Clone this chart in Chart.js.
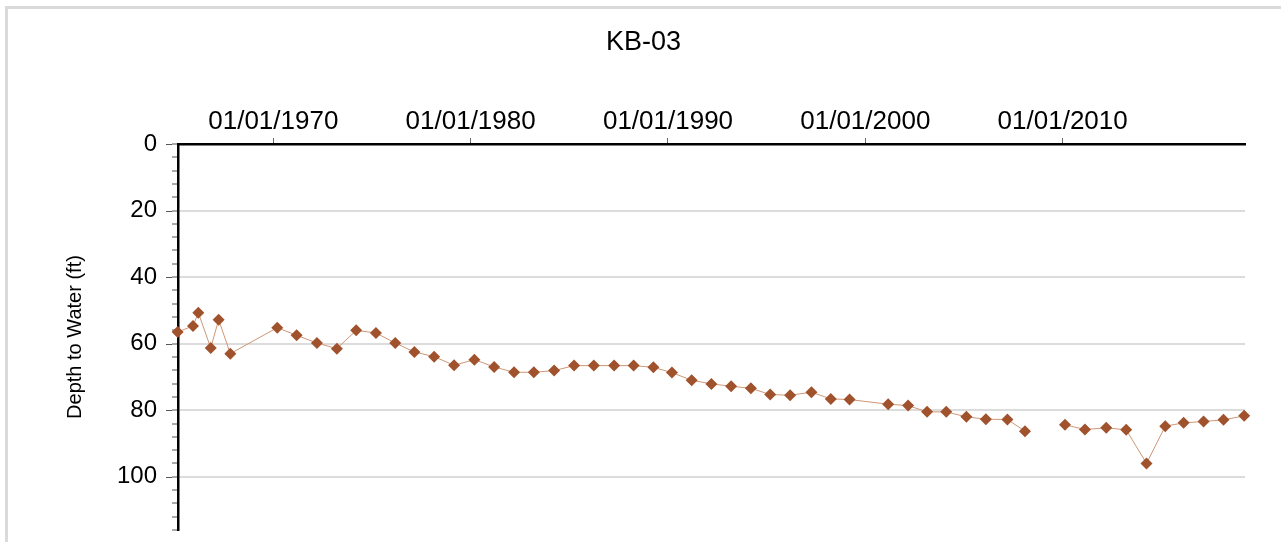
<!DOCTYPE html>
<html>
<head>
<meta charset="utf-8">
<title>KB-03</title>
<script src="https://cdn.jsdelivr.net/npm/chart.js@4/dist/chart.umd.min.js"></script>
<style>
    body { margin: 0; background: #fff; }
    #wrap { position: relative; width: 1281px; height: 542px; }
</style>
</head>
<body>
<div id="wrap"><canvas id="depthChart"></canvas></div>
<script>
// measurement dates as decimal years, depth to water in feet (null = break in the line)
const years = [
    1965.15, 1965.93, 1966.2, 1966.83, 1967.23, 1967.82,
    1970.2, 1971.18, 1972.21, 1973.22, 1974.2, 1975.2, 1976.18, 1977.15, 1978.15, 1979.16,
    1980.19, 1981.19, 1982.2, 1983.2, 1984.23, 1985.24, 1986.24, 1987.27, 1988.26, 1989.26,
    1990.2, 1991.2, 1992.2, 1993.2, 1994.2, 1995.18, 1996.19, 1997.27, 1998.25, 1999.2,
    2001.16, 2002.17, 2003.13, 2004.1, 2005.12, 2006.11, 2007.2, 2008.09,
    2009.1,
    2010.12, 2011.13, 2012.21, 2013.22, 2014.25, 2015.2, 2016.13, 2017.14, 2018.15, 2019.2
];
const depths = [
    56.5, 54.7, 50.7, 61.3, 52.8, 63.0,
    55.2, 57.5, 59.8, 61.5, 56.0, 56.8, 59.8, 62.5, 63.9, 66.5,
    64.8, 67.0, 68.6, 68.6, 68.1, 66.6, 66.6, 66.6, 66.6, 67.1,
    68.7, 71.0, 72.1, 72.8, 73.4, 75.3, 75.5, 74.6, 76.6, 76.8,
    78.2, 78.6, 80.5, 80.5, 82.0, 82.7, 82.8, 86.3,
    null,
    84.4, 85.8, 85.3, 85.9, 96.0, 84.8, 83.8, 83.4, 82.9, 81.7
];
const xTicks = [1970, 1980, 1990, 2000, 2010];
const yMajorStep = 20;

const points = years.map((yr, i) => ({ x: yr, y: depths[i] }));

// light grey frame round the whole chart, and the longer major ticks on the depth axis
const framePlugin = {
    id: 'frame',
    beforeDraw(chart) {
        const ctx = chart.ctx;
        ctx.save();
        ctx.strokeStyle = '#dadada';
        ctx.lineWidth = 3;
        ctx.strokeRect(6.5, 7.5, 1400, 1400);
        ctx.restore();
    },
    afterDraw(chart) {
        const y = chart.scales.y;
        const ctx = chart.ctx;
        ctx.save();
        ctx.strokeStyle = '#555';
        ctx.lineWidth = 1;
        y.ticks.forEach(t => {
            if (t.value % yMajorStep === 0) {
                const py = Math.round(y.getPixelForValue(t.value)) + 0.5;
                ctx.beginPath();
                ctx.moveTo(y.right - 12, py);
                ctx.lineTo(y.right - 6, py);
                ctx.stroke();
            }
        });
        ctx.restore();
    }
};

new Chart(document.getElementById('depthChart'), {
    type: 'line',
    data: {
        datasets: [{
            label: 'KB-03',
            data: points,
            borderColor: '#cf9676',
            borderWidth: 1,
            pointStyle: 'rectRot',
            pointRadius: 6,
            pointBackgroundColor: '#a0522d',
            pointBorderColor: '#a0522d',
            pointBorderWidth: 0,
            spanGaps: false,
            clip: false,
            tension: 0
        }]
    },
    options: {
        responsive: true,
        maintainAspectRatio: false,
        animation: false,
        layout: { padding: { left: 6, top: 0, right: 0, bottom: 0 } },
        plugins: {
            legend: { display: false },
            tooltip: { enabled: false },
            title: {
                display: true,
                text: 'KB-03',
                color: '#000',
                font: { family: 'Liberation Sans, Arial, sans-serif', size: 27, weight: 'normal' },
                padding: { top: 26, bottom: 8.6 }
            }
        },
        scales: {
            x: {
                type: 'linear',
                position: 'top',
                min: 1965.17,
                max: 2019.24,
                afterBuildTicks: scale => {
                    scale.ticks = xTicks.map(v => ({ value: v }));
                },
                afterFit: scale => {
                    scale.height = 77;
                    scale.paddingLeft = 0;
                    scale.paddingRight = 36;
                },
                ticks: {
                    color: '#000',
                    padding: 1,
                    maxRotation: 0,
                    font: { family: 'Liberation Sans, Arial, sans-serif', size: 26 },
                    callback: v => '01/01/' + v
                },
                grid: {
                    drawOnChartArea: false,
                    drawTicks: true,
                    tickLength: 6,
                    tickColor: '#666',
                    tickWidth: 1
                },
                border: { color: '#000', width: 2.5 }
            },
            y: {
                reverse: true,
                min: 0,
                max: 116,
                afterFit: scale => {
                    scale.width = 172;
                    scale.paddingTop = 0;
                    scale.paddingBottom = 12;
                },
                ticks: {
                    stepSize: 4,
                    autoSkip: false,
                    color: '#000',
                    padding: 15,
                    font: { family: 'Liberation Sans, Arial, sans-serif', size: 24 },
                    callback: v => (v % yMajorStep === 0 ? v : '')
                },
                grid: {
                    color: ctx => (ctx.tick && ctx.tick.value % yMajorStep === 0 && ctx.tick.value > 0 ? '#dcdcdc' : 'rgba(0,0,0,0)'),
                    lineWidth: 2,
                    tickLength: 6,
                    tickColor: '#555',
                    tickWidth: 1
                },
                border: { color: '#000', width: 2.5 },
                title: {
                    display: true,
                    text: 'Depth to Water (ft)',
                    color: '#000',
                    font: { family: 'Liberation Sans, Arial, sans-serif', size: 20 },
                    padding: { top: 57, bottom: 0 }
                }
            }
        }
    },
    plugins: [framePlugin]
});
</script>
</body>
</html>
